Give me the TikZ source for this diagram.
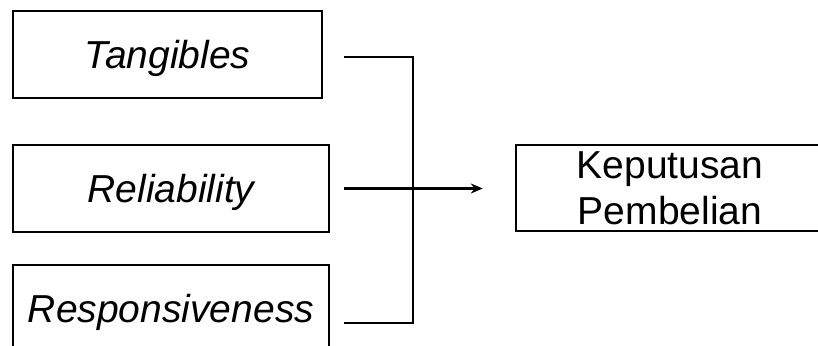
\documentclass[tikz,border=0pt]{standalone}
\usepackage{fontspec}
\setmainfont{Liberation Sans}
\usetikzlibrary{arrows.meta}

\tikzset{
  factor/.style={draw=black, line width=2.5pt, rectangle, minimum height=87pt,
    inner sep=0pt, text height=28pt, text depth=0pt,
    font=\fontsize{39}{46}\selectfont\itshape},
  outcome/.style={draw=black, line width=2.5pt, rectangle, minimum height=86pt,
    minimum width=308pt, inner sep=0pt, align=center,
    font=\fontsize{39}{46}\selectfont},
  conn/.style={line width=2.5pt, draw=black},
}

\begin{document}
\begin{tikzpicture}[x=1pt, y=-1pt]
  \useasboundingbox (0,0) rectangle (818,345);
  \clip (0,0) rectangle (818,345);

  % independent variables
  \node[factor, minimum width=309pt] (tang) at (167.5,54.5) {Tangibles};
  \node[factor, minimum width=316pt] (rel)  at (171,188.5) {Reliability};
  \node[factor, minimum width=316pt] (resp) at (171,308.5) {Responsiveness};

  % dependent variable
  \node[outcome] (kep) at (670,188) {Keputusan\\Pembelian};

  % bracket joining the three factors
  \coordinate (busTop) at (413,57);
  \coordinate (busBot) at (413,323);
  \draw[conn] ([xshift=21pt]tang.east |- busTop) -- (busTop) -- (busBot)
              -- ([xshift=14pt]resp.east |- busBot);

  % arrow into the decision box
  \draw[conn, -{Stealth[length=12pt, width=10pt]}]
    ([xshift=14pt]rel.east) -- ([xshift=-32pt]kep.west |- rel.east);
\end{tikzpicture}
\end{document}
